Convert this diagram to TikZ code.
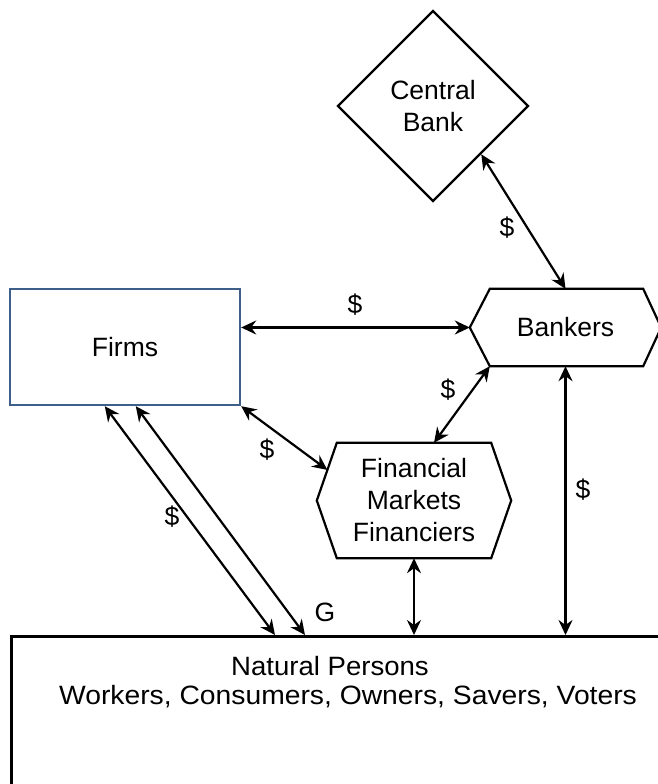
\documentclass[tikz,border=0pt]{standalone}
\usepackage{fontspec}
\setmainfont{Liberation Sans}
\usetikzlibrary{shapes.geometric,arrows.meta,calc}
\definecolor{firmblue}{HTML}{3E5F8A}
\begin{document}
\begin{tikzpicture}[x=1pt,y=-1pt,
  every node/.style={font=\fontsize{26.5}{32}\selectfont},
  outline/.style={draw=black,line width=2.2pt,line join=miter},
  plainbox/.style={inner sep=0pt,align=center},
  link/.style={line width=2.2pt,{Stealth[length=15pt,width=14pt,inset=5pt]}-{Stealth[length=15pt,width=14pt,inset=5pt]}},
  lbl/.style={inner sep=0pt}]
\useasboundingbox (0,0) rectangle (658,784);
\clip (0,0) rectangle (658,784);
\fill[white] (0,0) rectangle (658,784);

% nodes
\node[diamond,outline,plainbox,minimum width=191pt,minimum height=191pt] (cb) at (433,106) {Central\\Bank};
\node[rectangle,draw=firmblue,line width=2.4pt,plainbox,minimum width=230pt,minimum height=116pt] (firms) at (125,347) {Firms};
\node[plainbox,minimum width=191pt,minimum height=77pt] (bk) at (565.5,327.5) {Bankers};
\node[plainbox,minimum width=194pt,minimum height=115pt] (fm) at (414,500.5) {Financial\\Markets\\Financiers};
\node[rectangle,draw=black,line width=2.6pt,anchor=north west,minimum width=700pt,minimum height=200pt,inner sep=0pt] (np) at (10,635) {};
\node[plainbox,xscale=1.04,transform shape] (nptext1) at (330,666) {Natural Persons};
\node[plainbox,xscale=1.067,transform shape] (nptext2) at (348,697) {Workers, Consumers, Owners, Savers, Voters};

% hexagon outlines
\draw[outline] (bk.west) -- ($(bk.north west)+(20,0)$) -- ($(bk.north east)+(-18,0)$) -- (bk.east)
  -- ($(bk.south east)+(-18,0)$) -- ($(bk.south west)+(20,0)$) -- cycle;
\coordinate (fmtl) at ($(fm.north west)+(20,0)$);
\draw[outline] (fm.west) -- (fmtl) -- ($(fm.north east)+(-20,0)$) -- (fm.east)
  -- ($(fm.south east)+(-20,0)$) -- ($(fm.south west)+(20,0)$) -- cycle;

% connectors
\draw[link] (cb.-45) -- (bk.north);
\draw[link] (bk.west -| firms.east) -- (bk.west);
\draw[link] ($(bk.south west)+(20,0)$) -- ($(fm.north)+(20,0)$);
\draw[link] (firms.south east) -- ($(fm.west)!0.53!(fmtl)$);
\draw[link] ($(firms.south west)+(96,0)$) -- ($(np.north west)+(265,0)$);
\draw[link] ($(firms.south west)+(127,0)$) -- ($(np.north west)+(295,0)$);
\draw[link] (fm.south) -- (fm.south |- np.north);
\draw[link] (bk.south) -- (bk.south |- np.north);

% labels
\node[lbl] (l1) at (507,228) {\$};
\node[lbl] (l2) at (355,305) {\$};
\node[lbl] (l3) at (448,390) {\$};
\node[lbl] (l4) at (267,450) {\$};
\node[lbl] (l5) at (172,517) {\$};
\node[lbl] (l6) at (583,490) {\$};
\node[lbl] (lg) at (325,612) {G};
\end{tikzpicture}
\end{document}
